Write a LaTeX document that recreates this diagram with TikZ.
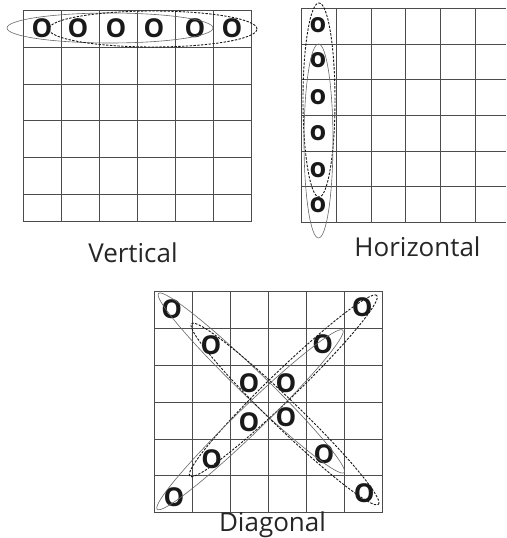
\documentclass[tikz,border=0pt]{standalone}
\usepackage{fontspec}
\setmainfont{Open Sans}

\begin{document}
\begin{tikzpicture}[
  x = 1pt, y = -1pt,
  every node/.style = {inner sep=0pt, outer sep=0pt},
  gridline/.style = {draw=black!70, line width=0.8pt},
  ostone/.style = {font=\fontsize{26}{26}\selectfont\bfseries, text=black!90},
  ostoneh/.style = {font=\fontsize{27}{27}\selectfont\bfseries, text=black!90},
  loopa/.style = {draw=black!60, line width=0.6pt},
  loopb/.style = {draw=black!90, line width=0.9pt, dash pattern=on 2.4pt off 1.4pt},
  caption/.style = {anchor=base, font=\fontsize{26}{26}\selectfont, text=black!85}
]
\useasboundingbox (0,0) rectangle (506,538);

% --- Vertical grid
\foreach \x in {23.3, 61.4, 99.4, 137.5, 175.6, 213.6, 251.7}
  \draw[gridline] (\x,10.7) -- (\x,221.7);
\foreach \y in {10.7, 47.4, 84.1, 120.8, 157.5, 194.2, 221.7}
  \draw[gridline] (23.3,\y) -- (251.7,\y);

\node[ostone] (v1) at (42,28) {O};
\node[ostone] (v2) at (78,28) {O};
\node[ostone] (v3) at (116,28) {O};
\node[ostone] (v4) at (154,28) {O};
\node[ostone] (v5) at (195,28) {O};
\node[ostone] (v6) at (232,28) {O};
\draw[loopa] (110,28) ellipse [x radius=103pt, y radius=15pt];
\draw[loopb] (153,29) ellipse [x radius=104pt, y radius=18pt];
\node[caption] (vlabel) at (133,262.3) {Vertical};

% --- Horizontal grid
\foreach \x in {301.7, 336.4, 371.1, 405.8, 440.5, 475.2}
  \draw[gridline] (\x,8.3) -- (\x,222.7);
\foreach \y in {8.3, 44, 79.7, 115.4, 151.1, 186.8, 222.7}
  \draw[gridline] (301.7,\y) -- (506,\y);

\node[ostoneh] (h1) at (318,25) {o};
\node[ostoneh] (h2) at (318,60) {o};
\node[ostoneh] (h3) at (318,96.7) {o};
\node[ostoneh] (h4) at (318,133) {o};
\node[ostoneh] (h5) at (318,170) {o};
\node[ostoneh] (h6) at (318,205) {o};
\draw[loopb] (319,100) ellipse [x radius=16pt, y radius=97pt];
\draw[loopa] (318.5,141) ellipse [x radius=14.5pt, y radius=97pt];
\node[caption] (hlabel) at (417.5,256.7) {Horizontal};

% --- Diagonal grid
\foreach \x in {154, 192.1, 230.2, 268.3, 306.4, 344.5, 382.7}
  \draw[gridline] (\x,291.7) -- (\x,512.3);
\foreach \y in {291.7, 328.5, 365.3, 402.1, 438.9, 475.7, 512.3}
  \draw[gridline] (154,\y) -- (382.7,\y);

\node[ostone] (d1) at (171.7,309.3) {O};
\node[ostone] (d2) at (211,345) {O};
\node[ostone] (d3) at (249,382.7) {O};
\node[ostone] (d4) at (286,383.3) {O};
\node[ostone] (d5) at (322.7,344.3) {O};
\node[ostone] (d6) at (362.3,307.3) {O};
\node[ostone] (d7) at (249,421.7) {O};
\node[ostone] (d8) at (286,416.7) {O};
\node[ostone] (d9) at (211.7,459.3) {O};
\node[ostone] (d10) at (174,496.7) {O};
\node[ostone] (d11) at (324,454) {O};
\node[ostone] (d12) at (364.3,493.3) {O};
\draw[loopa, rotate around={-44:(251.3,383)}] (251.3,383) ellipse [x radius=129pt, y radius=13pt];
\draw[loopb, rotate around={-44:(285,414)}] (285,414) ellipse [x radius=130pt, y radius=14pt];
\draw[loopb, rotate around={44:(283.3,385.8)}] (283.3,385.8) ellipse [x radius=130pt, y radius=14pt];
\draw[loopa, rotate around={44:(250,419.7)}] (250,419.7) ellipse [x radius=129pt, y radius=13pt];
\node[caption] (dlabel) at (272.5,531.7) {Diagonal};

\end{tikzpicture}
\end{document}
